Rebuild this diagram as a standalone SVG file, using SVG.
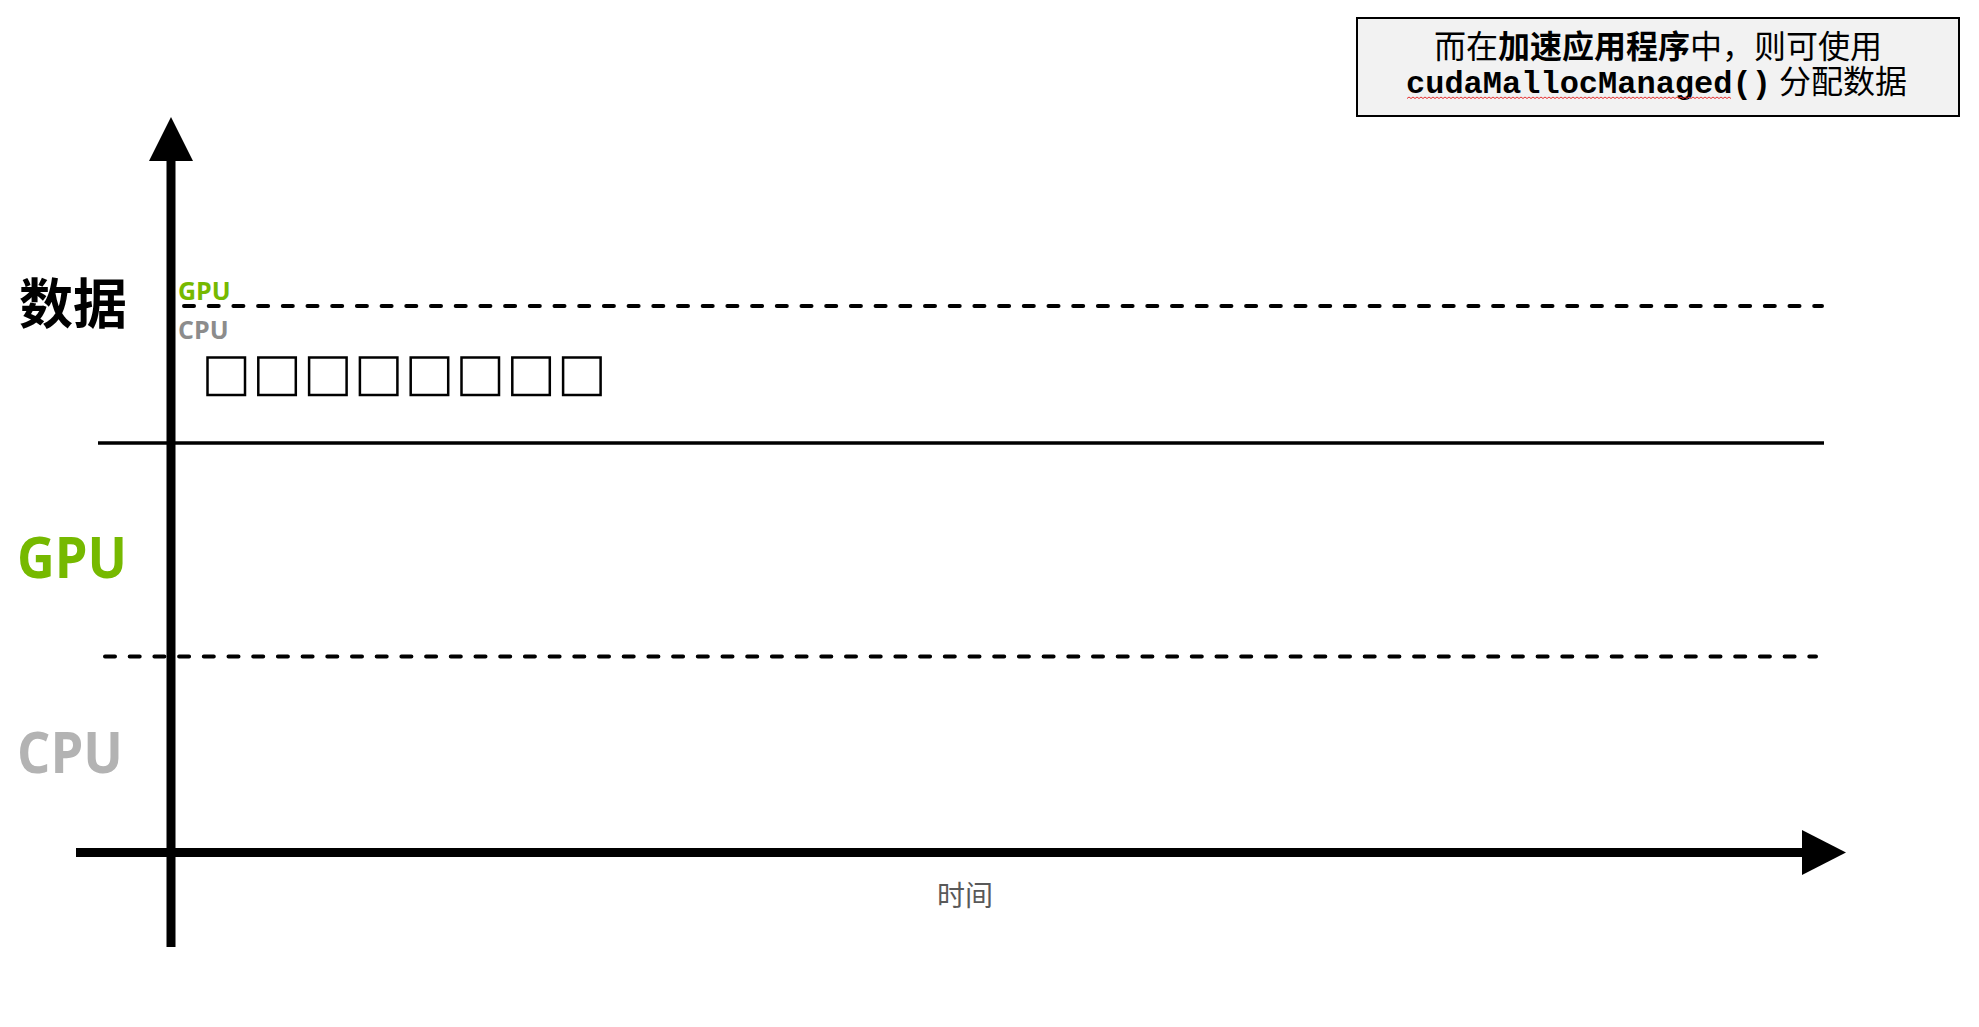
<svg xmlns="http://www.w3.org/2000/svg" width="1979" height="1027" viewBox="0 0 1979 1027">
  <style>
    .cjk { font-family: "Noto Sans CJK SC", "Noto Sans", sans-serif; }
    .lab { font-family: "Open Sans", "Noto Sans", sans-serif; font-weight: bold; }
    .mono { font-family: "Liberation Mono", "Courier New", monospace; font-weight: bold; }
    .sq { fill: #ffffff; stroke: #000000; stroke-width: 2.5; }
    .dash { stroke: #000000; stroke-width: 4; stroke-dasharray: 10 14.7; stroke-linecap: round; fill: none; }
  </style>
  <rect width="1979" height="1027" fill="#ffffff"/>

  <g id="connectors">
    <line class="dash" x1="184" y1="306" x2="1822" y2="306"/>
    <line x1="98" y1="443" x2="1824" y2="443" stroke="#000" stroke-width="3.5"/>
    <line class="dash" x1="105" y1="656.5" x2="1816" y2="656.5"/>
    <line x1="171" y1="947" x2="171" y2="158" stroke="#000" stroke-width="9"/>
    <polygon points="149,161 171,117 193,161" fill="#000"/>
    <line x1="76" y1="852.5" x2="1804" y2="852.5" stroke="#000" stroke-width="9"/>
    <polygon points="1802,830 1846,852.5 1802,875" fill="#000"/>
  </g>

  <g id="note">
    <rect x="1357" y="18" width="602" height="98" fill="#f2f2f2" stroke="#000" stroke-width="2"/>
    <text class="cjk" font-size="32" fill="#000"><tspan x="1658" y="57.5" text-anchor="middle">而在<tspan font-weight="bold">加速应用程序</tspan>中，则可使用</tspan><tspan class="mono" x="1406" y="93" text-anchor="start">cudaMallocManaged()</tspan><tspan x="1779" y="93" text-anchor="start">分配数据</tspan></text>
    <path id="squiggle" d="M1407,98.5 l2,-1.5 l2,1.5 l2,-1.5 l2,1.5 l2,-1.5 l2,1.5 l2,-1.5 l2,1.5 l2,-1.5 l2,1.5 l2,-1.5 l2,1.5 l2,-1.5 l2,1.5 l2,-1.5 l2,1.5 l2,-1.5 l2,1.5 l2,-1.5 l2,1.5 l2,-1.5 l2,1.5 l2,-1.5 l2,1.5 l2,-1.5 l2,1.5 l2,-1.5 l2,1.5 l2,-1.5 l2,1.5 l2,-1.5 l2,1.5 l2,-1.5 l2,1.5 l2,-1.5 l2,1.5 l2,-1.5 l2,1.5 l2,-1.5 l2,1.5 l2,-1.5 l2,1.5 l2,-1.5 l2,1.5 l2,-1.5 l2,1.5 l2,-1.5 l2,1.5 l2,-1.5 l2,1.5 l2,-1.5 l2,1.5 l2,-1.5 l2,1.5 l2,-1.5 l2,1.5 l2,-1.5 l2,1.5 l2,-1.5 l2,1.5 l2,-1.5 l2,1.5 l2,-1.5 l2,1.5 l2,-1.5 l2,1.5 l2,-1.5 l2,1.5 l2,-1.5 l2,1.5 l2,-1.5 l2,1.5 l2,-1.5 l2,1.5 l2,-1.5 l2,1.5 l2,-1.5 l2,1.5 l2,-1.5 l2,1.5 l2,-1.5 l2,1.5 l2,-1.5 l2,1.5 l2,-1.5 l2,1.5 l2,-1.5 l2,1.5 l2,-1.5 l2,1.5 l2,-1.5 l2,1.5 l2,-1.5 l2,1.5 l2,-1.5 l2,1.5 l2,-1.5 l2,1.5 l2,-1.5 l2,1.5 l2,-1.5 l2,1.5 l2,-1.5 l2,1.5 l2,-1.5 l2,1.5 l2,-1.5 l2,1.5 l2,-1.5 l2,1.5 l2,-1.5 l2,1.5 l2,-1.5 l2,1.5 l2,-1.5 l2,1.5 l2,-1.5 l2,1.5 l2,-1.5 l2,1.5 l2,-1.5 l2,1.5 l2,-1.5 l2,1.5 l2,-1.5 l2,1.5 l2,-1.5 l2,1.5 l2,-1.5 l2,1.5 l2,-1.5 l2,1.5 l2,-1.5 l2,1.5 l2,-1.5 l2,1.5 l2,-1.5 l2,1.5 l2,-1.5 l2,1.5 l2,-1.5 l2,1.5 l2,-1.5 l2,1.5 l2,-1.5 l2,1.5 l2,-1.5 l2,1.5 l2,-1.5 l2,1.5 l2,-1.5 l2,1.5 l2,-1.5 l2,1.5 l2,-1.5 l2,1.5 l2,-1.5 l2,1.5 l2,-1.5 l2,1.5 l2,-1.5 l2,1.5" fill="none" stroke="#e53030" stroke-width="1"/>
  </g>

  <g id="label-data">
    <text class="cjk" x="19" y="324" font-size="54" font-weight="bold" fill="#000">数据</text>
  </g>
  <g id="label-gpu-small">
    <text class="lab" x="178" y="299.5" font-size="25" fill="#76b900">GPU</text>
  </g>
  <g id="label-cpu-small">
    <text class="lab" x="178" y="338.5" font-size="25" fill="#8c8c8c">CPU</text>
  </g>
  <g id="label-gpu">
    <text class="lab" transform="translate(17,578) scale(0.9,1)" font-size="58" fill="#76b900">GPU</text>
  </g>
  <g id="label-cpu">
    <text class="lab" transform="translate(17,773) scale(0.92,1)" font-size="57" fill="#b3b3b3">CPU</text>
  </g>
  <g id="label-time">
    <text class="cjk" x="937" y="906" font-size="28" fill="#595959">时间</text>
  </g>

  <g id="pages">
    <rect class="sq" x="207.5" y="357.5" width="37.5" height="37.5"/>
    <rect class="sq" x="258.3" y="357.5" width="37.5" height="37.5"/>
    <rect class="sq" x="309.1" y="357.5" width="37.5" height="37.5"/>
    <rect class="sq" x="359.9" y="357.5" width="37.5" height="37.5"/>
    <rect class="sq" x="410.7" y="357.5" width="37.5" height="37.5"/>
    <rect class="sq" x="461.5" y="357.5" width="37.5" height="37.5"/>
    <rect class="sq" x="512.3" y="357.5" width="37.5" height="37.5"/>
    <rect class="sq" x="563.1" y="357.5" width="37.5" height="37.5"/>
  </g>
</svg>
